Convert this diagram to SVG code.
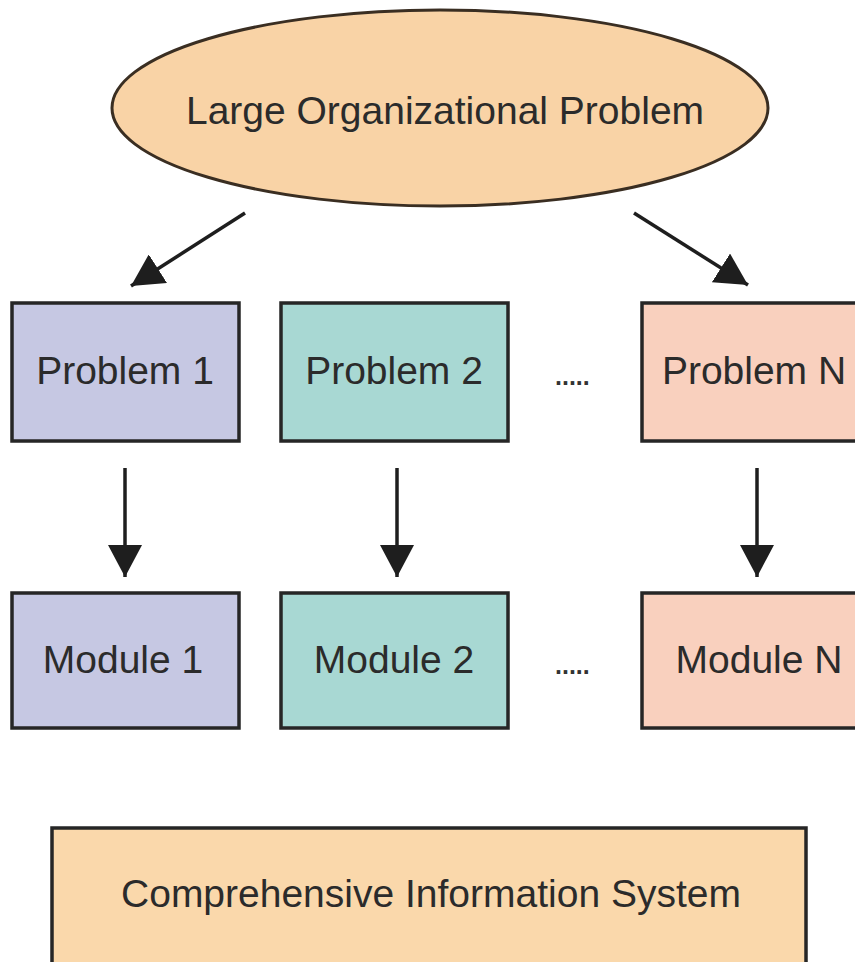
<svg xmlns="http://www.w3.org/2000/svg" width="855" height="962" viewBox="0 0 855 962">
  <style>
    .lbl { font-family: "Liberation Sans", Arial, sans-serif; font-size: 39px; fill: #2b2b2b; text-anchor: middle; }
    .dots { font-family: "Liberation Sans", Arial, sans-serif; font-size: 25px; font-weight: bold; fill: #333; }
    .box { stroke: #262626; stroke-width: 3.5; }
    .conn { stroke: #1e1e1e; stroke-width: 3.5; fill: none; marker-end: url(#head); }
  </style>
  <defs>
    <marker id="head" markerUnits="userSpaceOnUse" markerWidth="34" markerHeight="34" viewBox="0 0 34 34" refX="32" refY="17" orient="auto">
      <path d="M0,0 L32,17 L0,34 Z" fill="#1e1e1e"/>
    </marker>
  </defs>
  <rect width="855" height="962" fill="#ffffff"/>

  <g id="large-problem">
    <ellipse cx="440" cy="108" rx="328" ry="98" fill="#f9d3a6" stroke="#3a2e22" stroke-width="3"/>
    <text class="lbl" x="445" y="124">Large Organizational Problem</text>
  </g>

  <g id="problem-1">
    <rect class="box" x="12" y="303" width="227" height="138" fill="#c6c8e3"/>
    <text class="lbl" x="125" y="384">Problem 1</text>
  </g>
  <g id="problem-2">
    <rect class="box" x="281" y="303" width="227" height="138" fill="#a8d8d3"/>
    <text class="lbl" x="394" y="384">Problem 2</text>
  </g>
  <g id="problem-n">
    <rect class="box" x="642" y="303" width="240" height="138" fill="#f9d0be"/>
    <text class="lbl" x="754" y="384">Problem N</text>
  </g>
  <text class="dots" x="555" y="385">.....</text>

  <g id="module-1">
    <rect class="box" x="12" y="593" width="227" height="135" fill="#c6c8e3"/>
    <text class="lbl" x="123" y="673">Module 1</text>
  </g>
  <g id="module-2">
    <rect class="box" x="281" y="593" width="227" height="135" fill="#a8d8d3"/>
    <text class="lbl" x="394" y="673">Module 2</text>
  </g>
  <g id="module-n">
    <rect class="box" x="642" y="593" width="240" height="135" fill="#f9d0be"/>
    <text class="lbl" x="759" y="673">Module N</text>
  </g>
  <text class="dots" x="555" y="674">.....</text>

  <g id="info-system">
    <rect class="box" x="52" y="828" width="754" height="160" fill="#fad8ab"/>
    <text class="lbl" x="431" y="907">Comprehensive Information System</text>
  </g>

  <g id="connectors">
    <line class="conn" x1="245" y1="213" x2="131" y2="286"/>
    <line class="conn" x1="634" y1="213" x2="748" y2="285"/>
    <line class="conn" x1="125" y1="468" x2="125" y2="577"/>
    <line class="conn" x1="397" y1="468" x2="397" y2="577"/>
    <line class="conn" x1="757" y1="468" x2="757" y2="577"/>
  </g>
</svg>
